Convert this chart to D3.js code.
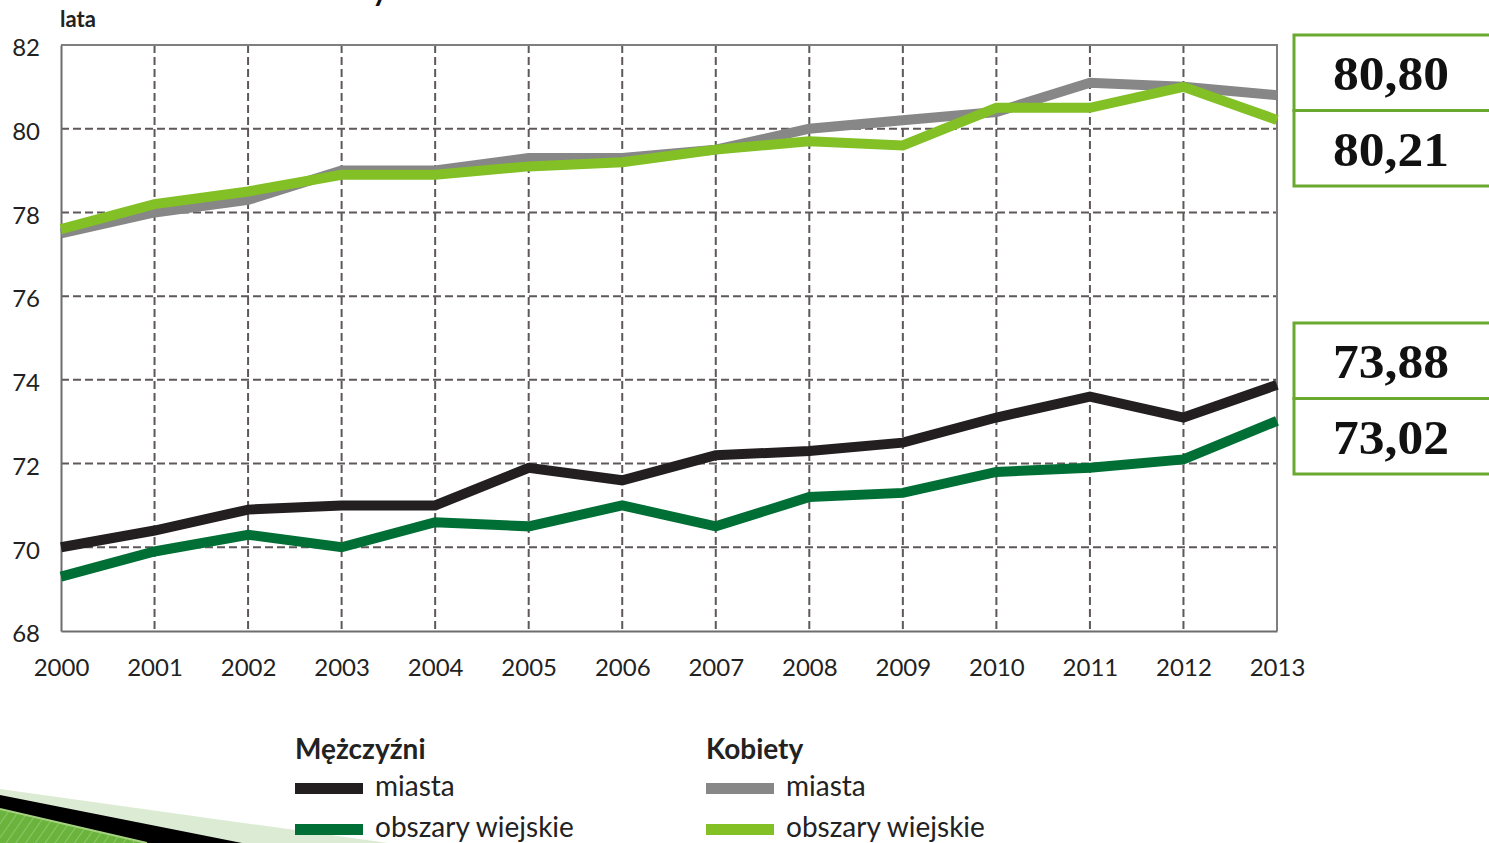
<!DOCTYPE html>
<html>
<head>
<meta charset="utf-8">
<script src="https://cdn.jsdelivr.net/npm/d3@7"></script>
<style>
  html, body { margin: 0; padding: 0; background: #fff; }
  svg { display: block; font-family: Lato, "Open Sans", sans-serif; }
</style>
</head>
<body>
<svg id="wykres" width="1489" height="843"></svg>
<script>
// dane: przeciętne dalsze trwanie życia (lata)
const lata = [2000, 2001, 2002, 2003, 2004, 2005, 2006, 2007, 2008, 2009, 2010, 2011, 2012, 2013];
const mezczyzniMiasta = [70.0, 70.4, 70.9, 71.0, 71.0, 71.9, 71.6, 72.2, 72.3, 72.5, 73.1, 73.6, 73.1, 73.88];
const mezczyzniWies = [69.3, 69.9, 70.3, 70.0, 70.6, 70.5, 71.0, 70.5, 71.2, 71.3, 71.8, 71.9, 72.1, 73.02];
const kobietyMiasta = [77.5, 78.0, 78.3, 79.0, 79.0, 79.3, 79.3, 79.5, 80.0, 80.2, 80.4, 81.1, 81.0, 80.80];
const kobietyWies = [77.6, 78.2, 78.5, 78.9, 78.9, 79.1, 79.2, 79.5, 79.7, 79.6, 80.5, 80.5, 81.0, 80.21];
const yTicks = [68, 70, 72, 74, 76, 78, 80, 82];
const wartosciKoncowe = [["80,80", "80,21"], ["73,88", "73,02"]];

const serie = [
  { nazwa: "kobiety miasta", dane: kobietyMiasta, kolor: "#878787" },
  { nazwa: "kobiety wieś", dane: kobietyWies, kolor: "#82c026" },
  { nazwa: "mężczyźni miasta", dane: mezczyzniMiasta, kolor: "#231f20" },
  { nazwa: "mężczyźni wieś", dane: mezczyzniWies, kolor: "#006f35" }
];

const svg = d3.select("#wykres");
const lewa = 61, prawa = 1277, gora = 45, dol = 631;

const x = d3.scaleLinear().domain([2000, 2013]).range([lewa, prawa]);
const y = d3.scaleLinear().domain([68, 82]).range([dol, gora]);

// dekoracja w lewym dolnym rogu
const defs = svg.append("defs");
const wzor = defs.append("pattern")
  .attr("id", "kreski").attr("patternUnits", "userSpaceOnUse")
  .attr("width", 8).attr("height", 8)
  .attr("patternTransform", "rotate(35)");
wzor.append("rect").attr("width", 8).attr("height", 8).attr("fill", "#6ab43e");
wzor.append("line").attr("x1", 0).attr("y1", 0).attr("x2", 0).attr("y2", 8)
  .attr("stroke", "#8cc866").attr("stroke-width", 2);

svg.append("path").attr("d", "M0,789 L388,843 L0,843 Z").attr("fill", "#dcebd3");
svg.append("path").attr("d", "M0,795 L242,843 L147,843 L0,809 Z").attr("fill", "#000");
svg.append("path").attr("d", "M0,809 L147,843 L0,843 Z").attr("fill", "url(#kreski)");
svg.append("path").attr("d", "M0,809 L147,843").attr("stroke", "#a5d27f").attr("stroke-width", 2);

// fragment tytułu ucięty u góry (w oryginale też widać tylko ogonek litery)
svg.append("text").attr("x", 372).attr("y", 1)
  .attr("font-size", 30).attr("font-weight", 700).attr("fill", "#111").text("y");

// siatka
const siatka = svg.append("g").attr("stroke", "#5e5858").attr("stroke-width", 2)
  .attr("stroke-dasharray", "8,4");
siatka.selectAll("line.h").data(yTicks.filter(d => d > 68 && d < 82)).enter().append("line")
  .attr("x1", lewa).attr("x2", prawa)
  .attr("y1", d => y(d)).attr("y2", d => y(d));
siatka.selectAll("line.v").data(lata.filter(d => d > 2000 && d < 2013)).enter().append("line")
  .attr("x1", d => x(d)).attr("x2", d => x(d))
  .attr("y1", gora).attr("y2", dol);

// ramka
svg.append("path")
  .attr("d", `M${lewa},${gora} H${prawa} V${dol}`)
  .attr("fill", "none").attr("stroke", "#7f7f7f").attr("stroke-width", 2);

// osie
const osY = svg.append("g").attr("transform", `translate(${lewa},0)`)
  .call(d3.axisLeft(y).tickValues(yTicks).tickSize(0).tickPadding(21));
const osX = svg.append("g").attr("transform", `translate(0,${dol})`)
  .call(d3.axisBottom(x).tickValues(lata).tickFormat(d3.format("d")).tickSize(0).tickPadding(28));
[osY, osX].forEach(o => {
  o.select(".domain").attr("stroke", "#6d6d6d").attr("stroke-width", 2);
  o.selectAll("text").attr("font-size", 24).attr("fill", "#222")
    .attr("font-family", "Lato, sans-serif");
});
osY.selectAll("text").attr("dy", "0.45em");
osX.selectAll("text").attr("dy", "0.72em");

svg.append("text").attr("x", 60).attr("y", 27)
  .attr("font-size", 22).attr("font-weight", 700).attr("fill", "#222").text("lata");

// linie
const linia = d3.line().x((d, i) => x(lata[i])).y(d => y(d));
svg.append("g").selectAll("path").data(serie).enter().append("path")
  .attr("d", d => linia(d.dane))
  .attr("fill", "none")
  .attr("stroke", d => d.kolor)
  .attr("stroke-width", 10)
  .attr("stroke-linejoin", "miter");

// pola z wartościami końcowymi
const pola = [35, 323];
pola.forEach((top, k) => {
  const g = svg.append("g");
  [0, 1].forEach(j => {
    g.append("rect")
      .attr("x", 1294).attr("y", top + j * 75.5)
      .attr("width", 200).attr("height", 75.5)
      .attr("fill", "#fff").attr("stroke", "#6aa92f").attr("stroke-width", 3);
    g.append("text")
      .attr("x", 1391).attr("y", top + j * 75.5 + 55)
      .attr("text-anchor", "middle")
      .attr("font-family", "'Liberation Serif', 'DejaVu Serif', serif")
      .attr("font-weight", 700).attr("font-size", 49).attr("fill", "#111")
      .attr("textLength", 116).attr("lengthAdjust", "spacingAndGlyphs")
      .text(wartosciKoncowe[k][j]);
  });
});

// legenda
const legenda = [
  { x: 295, tytul: "Mężczyźni", pozycje: [["miasta", serie[2].kolor], ["obszary wiejskie", serie[3].kolor]] },
  { x: 706, tytul: "Kobiety", pozycje: [["miasta", serie[0].kolor], ["obszary wiejskie", serie[1].kolor]] }
];
legenda.forEach(l => {
  const g = svg.append("g").attr("transform", `translate(${l.x},0)`);
  g.append("text").attr("x", 0).attr("y", 759)
    .attr("font-size", 28).attr("font-weight", 700).attr("fill", "#222").text(l.tytul);
  l.pozycje.forEach((p, i) => {
    g.append("rect").attr("x", 0).attr("y", 783 + i * 41).attr("width", 68).attr("height", 11)
      .attr("fill", p[1]);
    g.append("text").attr("x", 80).attr("y", 796 + i * 41)
      .attr("font-size", 28).attr("fill", "#222").text(p[0]);
  });
});
</script>
</body>
</html>
